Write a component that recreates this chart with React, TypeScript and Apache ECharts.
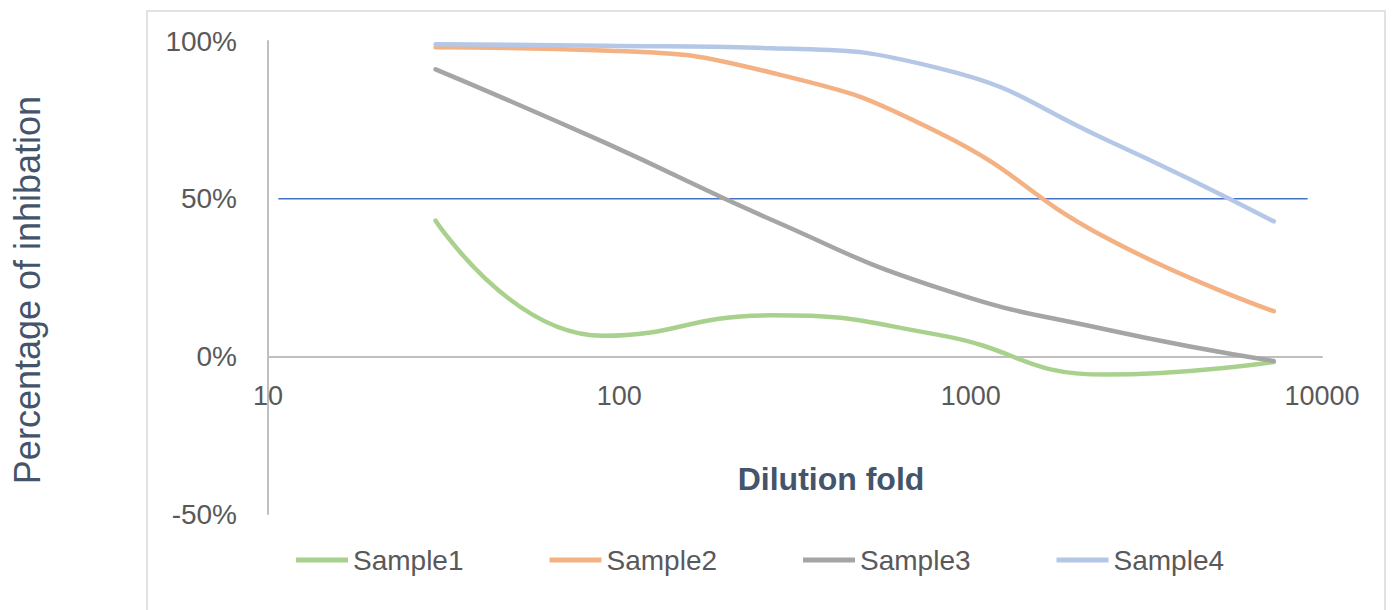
import React, { useEffect, useRef } from "react";
import * as echarts from "echarts";

const dilutions = [30, 90, 270, 810, 2430, 7290];
const sample1 = [0.43, 0.065, 0.13, 0.068, -0.058, -0.018];
const sample2 = [0.98, 0.97, 0.9, 0.71, 0.376, 0.143];
const sample3 = [0.91, 0.68, 0.434, 0.217, 0.085, -0.015];
const sample4 = [0.99, 0.985, 0.977, 0.914, 0.687, 0.428];
const seriesNames = ["Sample1", "Sample2", "Sample3", "Sample4"];
const seriesColors = ["#A9D18E", "#F4B183", "#A5A5A5", "#B4C7E7"];
const thresholdX = [10.7, 9100];
const thresholdY = 0.5;
const xTicks = [10, 100, 1000, 10000];
const yTicks = [-0.5, 0, 0.5, 1];

const FONT = "'Liberation Sans', Arial, sans-serif";

export default function App() {
  const ref = useRef<HTMLDivElement>(null);
  useEffect(() => {
    if (!ref.current) return;
    const chart = echarts.init(ref.current, null, { renderer: "svg" });
    const all = [sample1, sample2, sample3, sample4];
    const series: any[] = all.map((vals, i) => ({
      name: seriesNames[i],
      type: "line",
      smooth: 0.5,
      showSymbol: false,
      symbol: "none",
      lineStyle: { color: seriesColors[i], width: 4.5, cap: "round" },
      itemStyle: { color: seriesColors[i] },
      data: dilutions.map((d, j) => [d, vals[j]]),
      z: 3,
    }));
    series.push({
      name: "threshold",
      type: "line",
      showSymbol: false,
      symbol: "none",
      silent: true,
      lineStyle: { color: "#4472C4", width: 1.5 },
      data: thresholdX.map((x) => [x, thresholdY]),
      z: 2,
    });
    chart.setOption({
      animation: false,
      backgroundColor: "#ffffff",
      grid: { left: 268, top: 41, width: 1054, height: 473, containLabel: false },
      xAxis: {
        type: "log",
        logBase: 10,
        min: xTicks[0],
        max: xTicks[xTicks.length - 1],
        axisLine: { onZero: true, lineStyle: { color: "#BFBFBF", width: 2 } },
        axisTick: { show: false },
        splitLine: { show: false },
        axisLabel: {
          color: "#595959",
          fontSize: 27,
          fontFamily: FONT,
          margin: -132,
          formatter: (v: number) => String(v),
        },
      },
      yAxis: {
        type: "value",
        min: yTicks[0],
        max: yTicks[yTicks.length - 1],
        interval: 0.5,
        axisLine: { show: true, lineStyle: { color: "#BFBFBF", width: 2 } },
        axisTick: { show: false },
        splitLine: { show: false },
        axisLabel: {
          color: "#595959",
          fontSize: 28,
          fontFamily: FONT,
          margin: 31,
          formatter: (v: number) => Math.round(v * 100) + "%",
        },
      },
      legend: {
        data: seriesNames,
        left: 291,
        top: 541,
        icon: "rect",
        itemWidth: 52,
        itemHeight: 5,
        itemGap: 86,
        textStyle: { color: "#595959", fontSize: 28, fontFamily: FONT },
      },
      graphic: [
        {
          type: "rect",
          shape: { x: 147, y: 11, width: 1238, height: 620 },
          style: { fill: "none", stroke: "#D9D9D9", lineWidth: 1.5 },
          silent: true,
          z: -10,
        },
        {
          type: "text",
          x: 831,
          y: 479,
          style: {
            text: "Dilution fold",
            fill: "#44546A",
            font: "bold 32px " + FONT,
            align: "center",
            verticalAlign: "middle",
          },
        },
        {
          type: "text",
          x: 27,
          y: 290,
          rotation: Math.PI / 2,
          style: {
            text: "Percentage of inhibation",
            fill: "#44546A",
            font: "36px " + FONT,
            align: "center",
            verticalAlign: "middle",
          },
        },
      ],
      series,
    });
    return () => chart.dispose();
  }, []);
  return (
    <div
      ref={ref}
      style={{ position: "absolute", left: 0, top: 0, width: 1393, height: 610 }}
    />
  );
}
